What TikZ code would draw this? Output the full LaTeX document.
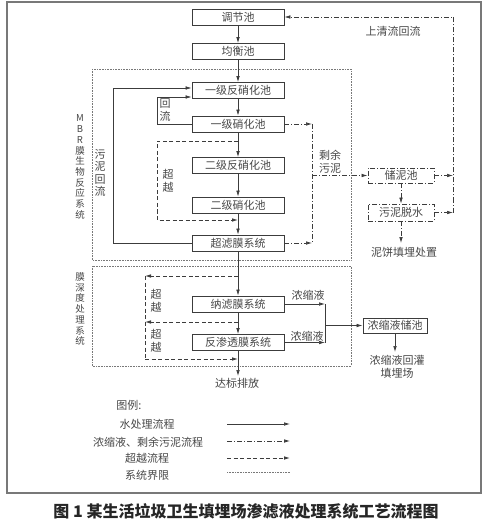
\documentclass[tikz,border=0pt]{standalone}
\usepackage{fontspec}
\setmainfont{Noto Sans CJK SC}
\usepackage{tikz}
\usetikzlibrary{arrows.meta}

\definecolor{linegray}{RGB}{60,60,60}
\definecolor{framegray}{RGB}{120,120,120}
\definecolor{textgray}{RGB}{70,70,70}

\tikzset{
  procbox/.style={draw=linegray, line width=0.8pt, minimum width=92pt, minimum height=16pt, inner sep=0pt, text=textgray, font=\fontsize{11}{12}\selectfont},
  mudbox/.style={procbox, dash pattern=on 5pt off 2pt on 1pt off 2pt, minimum width=66pt, minimum height=15pt},
  water/.style={draw=linegray, line width=0.7pt, -{Latex[length=6pt,width=3.6pt]}},
  waterline/.style={draw=linegray, line width=0.7pt},
  mud/.style={draw=linegray, line width=0.7pt, dash pattern=on 5pt off 2pt on 1pt off 2pt, -{Latex[length=6pt,width=3.6pt]}},
  mudline/.style={draw=linegray, line width=0.7pt, dash pattern=on 5pt off 2pt on 1pt off 2pt},
  bypass/.style={draw=linegray, line width=0.8pt, dash pattern=on 4pt off 2.5pt, -{Latex[length=6pt,width=3.6pt]}},
  bypassline/.style={draw=linegray, line width=0.8pt, dash pattern=on 4pt off 2.5pt},
  bound/.style={draw=framegray, line width=0.6pt, densely dotted},
  lbl/.style={inner sep=0pt, text=textgray, align=center, font=\fontsize{11}{12.5}\selectfont},
  sidelbl/.style={lbl, font=\fontsize{9.5}{10.7}\selectfont},
  legendlbl/.style={lbl, font=\fontsize{11}{12}\selectfont}
}

\begin{document}
\begin{tikzpicture}[x=1pt,y=1pt,yscale=-1,xscale=1]
\useasboundingbox (0,0) rectangle (486,529);

%Shape: Rectangle [outer frame]
\draw[framegray, line width=1.2pt] (7,2) rectangle (481,493);
%Shape: Rectangle [system boundaries]
\draw[bound] (92,69) rectangle (351,260);
\draw[bound] (92,266) rectangle (351,366);

% Process Boxes
\node[procbox] (tj) at (238,17) {调节池};
\node[procbox] (jh) at (238,51.5) {均衡池};
\node[procbox] (fx1) at (238,90.5) {一级反硝化池};
\node[procbox] (xh1) at (238,124) {一级硝化池};
\node[procbox] (fx2) at (238,165.5) {二级反硝化池};
\node[procbox] (xh2) at (238,205) {二级硝化池};
\node[procbox] (cl) at (238,243) {超滤膜系统};
\node[procbox] (nl) at (238,304) {纳滤膜系统};
\node[procbox] (fs) at (238,342.5) {反渗透膜系统};
\node[procbox, minimum width=64pt, minimum height=15pt] (cy) at (395,325.5) {浓缩液储池};
\node[mudbox] (cn) at (401,175.5) {储泥池};
\node[mudbox, minimum height=17pt] (ts) at (401,212.5) {污泥脱水};

% Bend Points
\coordinate (sr) at (113,88);
\coordinate (hl) at (157,97);
\coordinate (sv) at (312,0);
\coordinate (rv) at (453,0);
\coordinate (cv) at (325,0);
\coordinate (b1) at (157,141);
\coordinate (b2) at (157,220);
\coordinate (b3) at (145,276);
\coordinate (b4) at (145,322);
\coordinate (b5) at (145,359);
\coordinate (db) at (238,376);
\coordinate (nb) at (401,243);
\coordinate (gz) at (395,352);

% Main Flow
\draw[water] (tj) -- (jh);
\draw[water] (jh) -- (fx1);
\draw[water] (fx1) -- (xh1);
\draw[water] (xh1) -- (fx2);
\draw[water] (fx2) -- (xh2);
\draw[water] (xh2) -- (cl);
\draw[water] (cl) -- (nl);
\draw[water] (nl) -- (fs);
\draw[water] (fs) -- (db);
\draw[water] (cl.west) -| (sr) -- (sr -| fx1.west);
\draw[water] (xh1.west) -| (hl) -- (hl -| fx1.west);
\draw[water] (cy) -- (gz);

% Concentrate
\draw[water] (nl.east) -- (nl.east -| cv);
\draw[water] (fs.east) -- (fs.east -| cv);
\draw[waterline] (nl.east -| cv) -- (fs.east -| cv);
\draw[water] (cy.west -| cv) -- (cy.west);

% Sludge
\draw[mud] (xh1.east) -- (xh1.east -| sv);
\draw[mud] (cl.east) -- (cl.east -| sv);
\draw[mudline] (xh1.east -| sv) -- (cl.east -| sv);
\draw[mud] (cn.west -| sv) -- (cn.west);
\draw[mud] (cn) -- (ts);
\draw[mud] (ts) -- (nb);
\draw[mud] (cn.east) -- (cn.east -| rv);
\draw[mud] (ts.east) -- (ts.east -| rv);
\draw[mud] (ts.east -| rv) -- (tj.east -| rv) -- (tj.east);

% Bypass
\draw[bypass] (b1 -| xh1.south) -- (b1) -- (b2) -- (b2 -| xh2.south);
\draw[bypass] (b3 -| nl.north) -- (b3);
\draw[bypass] (b4 -| fs.north) -- (b4);
\draw[bypassline] (b3) -- (b5);
\draw[bypass] (b5) -- (b5 -| fs.south);

% Text Node
\node[sidelbl] (mbr) at (80,167) {M\\B\\R\\膜\\生\\物\\反\\应\\系\\统};
\node[sidelbl] (sd) at (80,309) {膜\\深\\度\\处\\理\\系\\统};
\node[lbl] (wnhl) at (100,173) {污\\泥\\回\\流};
\node[lbl] (hlt) at (165,110) {回\\流};
\node[lbl] (cy1) at (168,181) {超\\越};
\node[lbl] (cy2) at (156,301) {超\\越};
\node[lbl] (cy3) at (156,341) {超\\越};
\node[lbl] (syw) at (330,162) {剩余\\污泥};
\node[lbl] (sq) at (393,31) {上清流回流};
\node[lbl] (nbt) at (404,252) {泥饼填埋处置};
\node[lbl] (ns1) at (308,295) {浓缩液};
\node[lbl] (ns2) at (307,336) {浓缩液};
\node[lbl] (hg) at (397,367) {浓缩液回灌\\填埋场};
\node[lbl] (dbt) at (237,383) {达标排放};

% Legend
\node[legendlbl] (tl) at (129,405) {图例:};
\node[legendlbl] (l1) at (147,424) {水处理流程};
\node[legendlbl] (l2) at (148,442) {浓缩液、剩余污泥流程};
\node[legendlbl] (l3) at (147,458) {超越流程};
\node[legendlbl] (l4) at (147,475) {系统界限};
\coordinate (l1a) at (227,424);
\coordinate (l1b) at (290,424);
\coordinate (l2a) at (227,441);
\coordinate (l2b) at (290,441);
\coordinate (l3a) at (227,458);
\coordinate (l3b) at (290,458);
\coordinate (l4a) at (227,472);
\coordinate (l4b) at (290,472);
\draw[water] (l1a) -- (l1b);
\draw[mud] (l2a) -- (l2b);
\draw[bypass] (l3a) -- (l3b);
\draw[bound] (l4a) -- (l4b);

% Caption
\node[inner sep=0pt, text=black!85, font=\fontsize{16}{18}\selectfont\bfseries] (cap) at (246,511) {图 1 某生活垃圾卫生填埋场渗滤液处理系统工艺流程图};

\end{tikzpicture}
\end{document}
